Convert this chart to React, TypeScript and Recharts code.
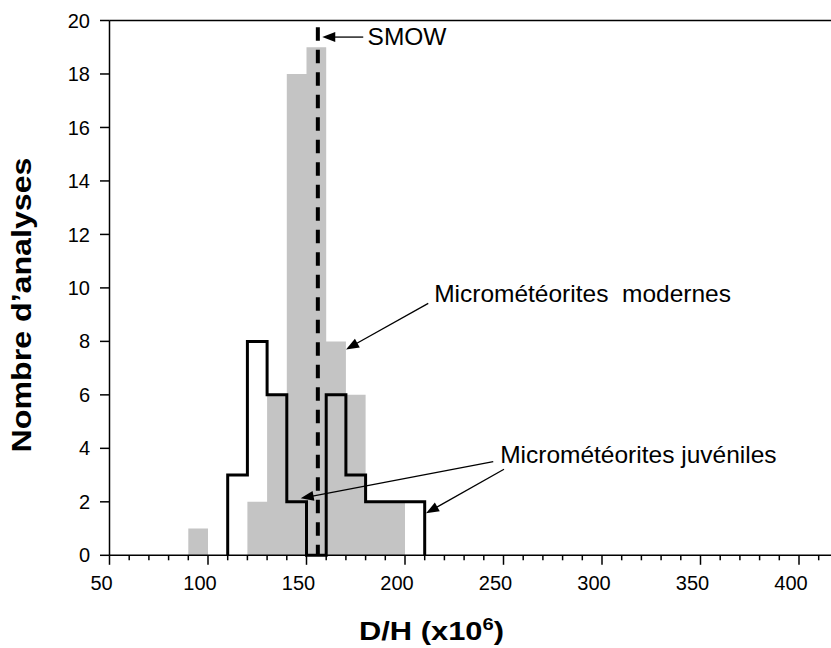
import React from 'react';
import { ComposedChart, Area, Line, XAxis, YAxis, ReferenceLine, ReferenceDot } from 'recharts';

// Histogram of modern micrometeorites (bin starts, counts), bin width 10
const modernBinStarts = [90, 100, 110, 120, 130, 140, 150, 160, 170, 180, 190];
const modernCounts = [1, 0, 0, 2, 6, 18, 19, 8, 6, 2, 2];
const modernBinEnd = 200;

// Histogram of juvenile micrometeorites
const juvenileBinStarts = [110, 120, 130, 140, 150, 160, 170, 180, 190, 200];
const juvenileCounts = [3, 8, 6, 2, 0, 6, 3, 2, 2, 2];
const juvenileBinEnd = 210;

const smowValue = 155.76;
const smowTop = 19.75;

const xTicks = [50, 60, 70, 80, 90, 100, 110, 120, 130, 140, 150, 160, 170, 180, 190, 200, 210, 220, 230, 240, 250, 260, 270, 280, 290, 300, 310, 320, 330, 340, 350, 360, 370, 380, 390, 400, 410, 420];
const xLabelTicks = [50, 100, 150, 200, 250, 300, 350, 400];
const yTicks = [0, 2, 4, 6, 8, 10, 12, 14, 16, 18, 20];

const xTitle = 'D/H (x10';
const xTitleSup = '6';
const yTitle = 'Nombre d\u2019analyses';

// annotations (data coordinates)
const annotationTexts = [
  { text: 'SMOW', x: 181, y: 19.08 },
  { text: 'Micrométéorites  modernes', x: 214.8, y: 9.48 },
  { text: 'Micrométéorites juvéniles', x: 248.3, y: 3.44 },
];
const annotationArrows = [
  { from: { x: 178.8, y: 19.38 }, to: { x: 158.0, y: 19.38 } },
  { from: { x: 211.8, y: 9.42 }, to: { x: 170.05, y: 7.7 } },
  { from: { x: 244.8, y: 3.5 }, to: { x: 147.06, y: 2.13 } },
  { from: { x: 250.25, y: 3.22 }, to: { x: 210.66, y: 1.57 } },
];

const modernData = [
  ...modernBinStarts.map((x, i) => ({ x, n: modernCounts[i] })),
  { x: modernBinEnd, n: 0 },
];
const juvenileData = [
  { x: juvenileBinStarts[0], n: 0 },
  ...juvenileBinStarts.map((x, i) => ({ x, n: juvenileCounts[i] })),
  { x: juvenileBinEnd, n: 0 },
];

const FONT = '"Liberation Sans", Arial, Helvetica, sans-serif';

const XTick = (props: any) => {
  const { x, y, payload } = props;
  const v = payload.value;
  const major = xLabelTicks.includes(v);
  return (
    <g>
      <line x1={x} y1={y} x2={x} y2={y + (major ? 9.5 : 5)} stroke="#000" strokeWidth={1.5} />
      {major && (
        <text x={x - 8} y={y + 34.5} textAnchor="middle" fontSize={20} fontFamily={FONT} fill="#000">
          {v}
        </text>
      )}
    </g>
  );
};

const Arrow = (props: any) => {
  const { x1, y1, x2, y2 } = props;
  const ang = Math.atan2(y2 - y1, x2 - x1);
  const L = 13;
  const W = 5;
  const c = Math.cos(ang);
  const s = Math.sin(ang);
  const bx = x2 - L * c;
  const by = y2 - L * s;
  const pts = `${x2},${y2} ${bx - W * s},${by + W * c} ${bx + W * s},${by - W * c}`;
  return (
    <g>
      <line x1={x1} y1={y1} x2={bx + 1 * c} y2={by + 1 * s} stroke="#000" strokeWidth={1.3} />
      <polygon points={pts} fill="#000" />
    </g>
  );
};

const makeTextShape = (text: string) => (props: any) => (
  <text
    x={props.cx}
    y={props.cy}
    fontSize={24.5}
    fontFamily={FONT}
    fill="#000"
    style={{ whiteSpace: 'pre' }}
  >
    {text}
  </text>
);

const XTitle = (props: any) => {
  const vb = props.viewBox;
  return (
    <text
      x={vb.x + 322}
      y={vb.y + 84.5}
      textAnchor="middle"
      fontSize={26}
      fontWeight="bold"
      fontFamily={FONT}
      fill="#000"
      textLength={145}
      lengthAdjust="spacingAndGlyphs"
    >
      {xTitle}
      <tspan dy={-10} fontSize={17}>{xTitleSup}</tspan>
      <tspan dy={10}>)</tspan>
    </text>
  );
};

const YTitle = (props: any) => {
  const cx = 31;
  const cy = 305;
  return (
    <text
      x={cx}
      y={cy}
      transform={`rotate(-90, ${cx}, ${cy})`}
      textAnchor="middle"
      fontSize={27}
      fontWeight="bold"
      fontFamily={FONT}
      fill="#000"
      textLength={295}
      lengthAdjust="spacingAndGlyphs"
    >
      {yTitle}
    </text>
  );
};

export default function App() {
  return (
    <div
      style={{
        position: 'absolute',
        left: 0,
        top: 0,
        width: 831,
        height: 648,
        overflow: 'hidden',
        background: '#fff',
      }}
    >
      <ComposedChart
        width={850}
        height={648}
        margin={{ top: 20.5, right: 11.6, bottom: 0, left: 0 }}
      >
        <XAxis
          type="number"
          dataKey="x"
          domain={[50, 420]}
          ticks={xTicks}
          interval={0}
          allowDataOverflow
          height={92.7}
          axisLine={{ stroke: '#000', strokeWidth: 1.5 }}
          tickLine={false}
          tickSize={0}
          tickMargin={0}
          tick={<XTick />}
          label={{ content: <XTitle /> }}
        />
        <YAxis
          type="number"
          domain={[0, 20]}
          ticks={yTicks}
          interval={0}
          width={109.5}
          axisLine={{ stroke: '#000', strokeWidth: 1.5 }}
          tickLine={{ stroke: '#000', strokeWidth: 1.5 }}
          tickSize={9.5}
          tickMargin={10}
          tick={{ fontSize: 20, fill: '#000', fontFamily: FONT }}
          label={{ content: <YTitle /> }}
        />
        <Area
          data={modernData}
          dataKey="n"
          type="stepAfter"
          fill="#c4c4c4"
          fillOpacity={1}
          stroke="none"
          isAnimationActive={false}
          dot={false}
          activeDot={false}
        />
        <Line
          data={juvenileData}
          dataKey="n"
          type="stepAfter"
          stroke="#000"
          strokeWidth={3}
          dot={false}
          activeDot={false}
          isAnimationActive={false}
        />
        <ReferenceLine y={20} stroke="#000" strokeWidth={1.5} />
        <ReferenceLine
          segment={[
            { x: smowValue, y: smowTop },
            { x: smowValue, y: 0 },
          ]}
          stroke="#000"
          strokeWidth={4}
          strokeDasharray="13.5 9"
        />
        {annotationArrows.map((a, i) => (
          <ReferenceLine key={'arr' + i} segment={[a.from, a.to]} shape={<Arrow />} />
        ))}
        {annotationTexts.map((t, i) => (
          <ReferenceDot key={'txt' + i} x={t.x} y={t.y} r={0} shape={makeTextShape(t.text)} />
        ))}
      </ComposedChart>
    </div>
  );
}
